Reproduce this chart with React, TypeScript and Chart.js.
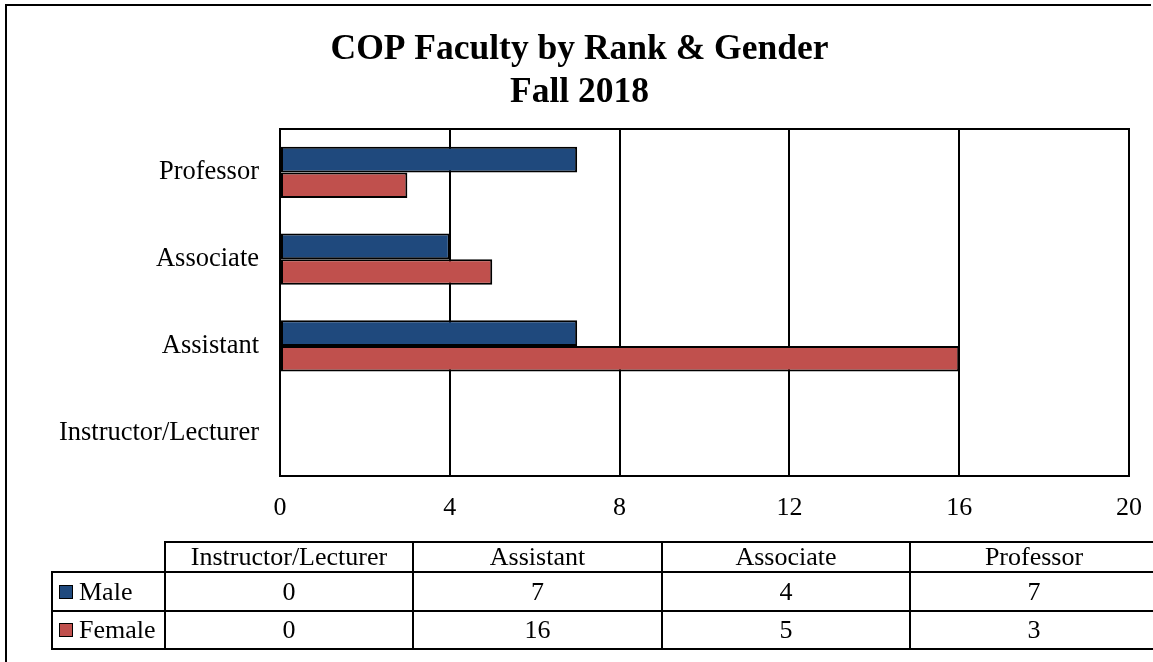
import React, { useEffect, useRef } from "react";
import { Chart, registerables } from "chart.js";

Chart.register(...registerables);

const titleLines = ["COP Faculty by Rank & Gender", "Fall 2018"];
const ranks = ["Instructor/Lecturer", "Assistant", "Associate", "Professor"];
const seriesNames = ["Male", "Female"];
const maleValues = [0, 7, 4, 7];
const femaleValues = [0, 16, 5, 3];
const xMin = 0;
const xMax = 20;
const xStep = 4;
const seriesColors = ["#1F497D", "#C0504D"];

const FONT = '"Liberation Serif", "Times New Roman", serif';
const W = 1153;
const H = 662;

// table geometry (px)
const colLines = [52, 165, 413, 662, 910, 1158];
const rowLines = [542, 572, 611, 649];

const framePlugin = {
  id: "frame",
  afterDraw(chart: any) {
    const { ctx, chartArea } = chart;
    const { left, top, right, bottom } = chartArea;
    ctx.save();
    ctx.strokeStyle = "#000";
    ctx.lineWidth = 2;
    ctx.strokeRect(left, top, right - left, bottom - top);
    ctx.restore();
  },
};

function Cell(props: { x0: number; x1: number; y0: number; y1: number; children?: any; align?: string }) {
  const { x0, x1, y0, y1, children, align } = props;
  return (
    <div
      style={{
        position: "absolute",
        left: x0 - 1,
        top: y0 - 1,
        width: x1 - x0 + 2,
        height: y1 - y0 + 2,
        border: "2px solid #000",
        boxSizing: "border-box",
        display: "flex",
        alignItems: "center",
        justifyContent: align === "left" ? "flex-start" : "center",
        fontFamily: FONT,
        fontSize: 26,
        color: "#000",
        whiteSpace: "nowrap",
        overflow: "hidden",
        paddingLeft: align === "left" ? 6 : 0,
      }}
    >
      {children}
    </div>
  );
}

export default function App() {
  const canvasRef = useRef<HTMLCanvasElement | null>(null);

  useEffect(() => {
    const canvas = canvasRef.current;
    if (!canvas) return;
    const displayLabels = [...ranks].reverse();
    const seriesValues = [maleValues, femaleValues];
    const chart = new Chart(canvas, {
      type: "bar",
      data: {
        labels: displayLabels,
        datasets: seriesNames.map((name, i) => ({
          label: name,
          data: [...seriesValues[i]].reverse(),
          backgroundColor: seriesColors[i],
          borderColor: "#000",
          borderWidth: 2,
          borderSkipped: false,
          categoryPercentage: 0.59,
          barPercentage: 1,
        })),
      },
      options: {
        indexAxis: "y",
        responsive: false,
        animation: false,
        layout: { padding: { left: 30, right: 24, top: 0, bottom: 106 } },
        plugins: {
          legend: { display: false },
          tooltip: { enabled: false },
          title: {
            display: true,
            text: titleLines,
            color: "#000",
            font: { family: FONT, size: 35.5, weight: "bold", lineHeight: 1.2 },
            padding: { top: 28.5, bottom: 15.3 },
          },
        },
        scales: {
          x: {
            type: "linear",
            min: xMin,
            max: xMax,
            ticks: {
              stepSize: xStep,
              color: "#000",
              font: { family: FONT, size: 26 },
              padding: 17,
            },
            grid: { color: "#000", lineWidth: 2, drawTicks: false },
            border: { display: true, color: "#000", width: 2 },
            afterFit(scale: any) {
              scale.height = 80;
              scale.paddingLeft = 0;
              scale.paddingRight = 0;
            },
          },
          y: {
            type: "category",
            ticks: {
              color: "#000",
              font: { family: FONT, size: 26.5 },
              padding: 21,
            },
            grid: { display: false, drawTicks: false },
            border: { display: true, color: "#000", width: 2 },
            afterFit(scale: any) {
              scale.width = 250;
              scale.paddingTop = 0;
              scale.paddingBottom = 0;
            },
          },
        },
      },
      plugins: [framePlugin],
    } as any);
    return () => chart.destroy();
  }, []);

  const seriesValues = [maleValues, femaleValues];

  return (
    <div
      style={{
        position: "fixed",
        left: 0,
        top: 0,
        width: W,
        height: H,
        overflow: "hidden",
        background: "#fff",
      }}
    >
      <div
        style={{
          position: "absolute",
          left: 5,
          top: 4,
          width: 1146,
          height: 700,
          borderTop: "2px solid #000",
          borderLeft: "2px solid #000",
          boxSizing: "border-box",
        }}
      />
      <canvas
        ref={canvasRef}
        width={W}
        height={H}
        style={{ position: "absolute", left: 0, top: 0, width: W, height: H }}
      />
      {ranks.map((r, c) => (
        <Cell key={"h" + c} x0={colLines[c + 1]} x1={colLines[c + 2]} y0={rowLines[0]} y1={rowLines[1]}>
          {r}
        </Cell>
      ))}
      {seriesNames.map((name, s) => (
        <React.Fragment key={"r" + s}>
          <Cell x0={colLines[0]} x1={colLines[1]} y0={rowLines[s + 1]} y1={rowLines[s + 2]} align="left">
            <span
              style={{
                display: "inline-block",
                width: 12,
                height: 12,
                background: seriesColors[s],
                border: "1px solid #000",
                marginRight: 6,
                marginLeft: 0,
              }}
            />
            {name}
          </Cell>
          {seriesValues[s].map((v, c) => (
            <Cell key={"v" + s + c} x0={colLines[c + 1]} x1={colLines[c + 2]} y0={rowLines[s + 1]} y1={rowLines[s + 2]}>
              {String(v)}
            </Cell>
          ))}
        </React.Fragment>
      ))}
    </div>
  );
}
